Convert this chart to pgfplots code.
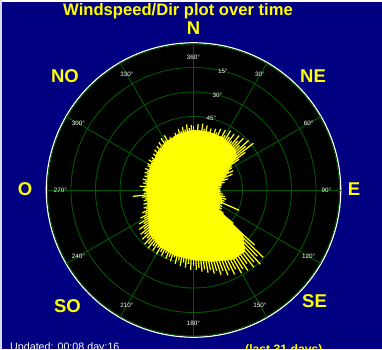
\documentclass[border=0pt]{standalone}
\usepackage{pgfplots}
\pgfplotsset{compat=1.18}
\usepackage{pgfplotstable}
\usepackage{fontspec}
\setmainfont{Liberation Sans}
\definecolor{navybg}{RGB}{0,0,128}
\definecolor{gridg}{RGB}{0,88,0}
\definecolor{yel}{RGB}{255,255,0}

% wind spikes: bearing (deg, clockwise from N), length (px)
\pgfplotstableread{
b r
0 64
2 58
4 66
6 60
8 67
10 62
12 66
14 59
16 64
18 60
20 65
22 62
24 67
26 60
28 68
30 63
32 70
34 64
36 69
38 62
40 71
42 66
44 72
46 64
48 74
50 68
52 76
54 64
56 55
58 45
60 44
62 40
64 44
66 36
68 42
70 33
72 36
74 30
76 32
78 28
80 29
82 26
84 28
86 25
88 27
90 26
92 25
94 28
96 26
98 30
100 27
102 32
104 29
106 34
108 30
110 33
112 31
114 50
116 32
118 30
120 33
122 31
124 34
126 32
128 38
130 52
132 82
134 97
136 92
138 100
140 94
142 98
144 91
146 97
148 93
150 96
152 90
154 94
156 88
158 92
160 86
162 89
164 84
166 86
168 82
170 84
172 80
174 82
176 78
178 80
180 76
182 80
184 74
186 78
188 73
190 77
192 72
194 76
196 70
198 75
200 71
202 74
204 69
206 73
208 70
210 74
212 68
214 73
216 69
218 74
220 70
222 73
224 67
226 71
228 66
230 69
232 63
234 67
236 60
238 64
240 57
242 60
244 54
246 56
248 51
250 53
252 49
254 52
256 48
258 51
260 49
262 52
264 61
266 50
268 48
270 51
272 49
274 54
276 48
278 51
280 49
282 52
284 48
286 51
288 49
290 52
292 50
294 53
296 49
298 52
300 53
302 50
304 54
306 51
308 53
310 50
312 54
314 52
316 56
318 53
320 57
322 54
324 59
326 55
328 61
330 57
332 62
334 56
336 58
338 54
340 57
342 60
344 58
346 63
348 60
350 64
352 61
354 66
356 62
358 65
}\spikes

% solid core outline
\pgfplotstableread{
b r
0 60
15 60
30 60
45 58
52 55
58 40
65 32
80 23
90 23
105 26
120 28
128 31
132 66
140 80
150 80
165 74
180 70
195 68
210 66
225 62
240 52
255 47
270 47
285 47
300 49
315 51
330 55
345 58
}\core

\begin{document}
\begin{tikzpicture}
\begin{axis}[name=ax, width=382pt, height=349pt, scale only axis,
  xmin=0, xmax=382, ymin=-349, ymax=0,
  axis line style={draw=none}, ticks=none, clip=false]
% background
\fill[navybg] (axis cs:0,-349) rectangle (axis cs:382,0);
\fill[white] (axis cs:0,-2) rectangle (axis cs:382,0);
\fill[white!85!navybg] (axis cs:0,-349) rectangle (axis cs:1.5,0);
% plot disc
\fill[black] (axis cs:193.5,-190) circle[radius=147];
\draw[white, line width=1.2pt] (axis cs:193.5,-190) circle[radius=147.2];
\draw[gridg, line width=0.9pt] (axis cs:193.5,-190) circle[radius=146];
\draw[gridg, line width=0.9pt] (axis cs:193.5,-190) circle[radius=24.5];
\draw[gridg, line width=0.9pt] (axis cs:193.5,-190) circle[radius=49];
\draw[gridg, line width=0.9pt] (axis cs:193.5,-190) circle[radius=73.5];
\draw[gridg, line width=0.9pt] (axis cs:193.5,-190) circle[radius=98];
\draw[gridg, line width=0.9pt] (axis cs:193.5,-190) circle[radius=122.5];
\draw[gridg, line width=0.9pt] (axis cs:193.5,-43) -- (axis cs:193.5,-337);
\draw[gridg, line width=0.9pt] (axis cs:46.5,-190) -- (axis cs:340.5,-190);
\draw[gridg, line width=0.9pt] (axis cs:267,-62.7) -- (axis cs:120,-317.3);
\draw[gridg, line width=0.9pt] (axis cs:320.8,-116.5) -- (axis cs:66.2,-263.5);
\draw[gridg, line width=0.9pt] (axis cs:320.8,-263.5) -- (axis cs:66.2,-116.5);
\draw[gridg, line width=0.9pt] (axis cs:267,-317.3) -- (axis cs:120,-62.7);
% angle labels
\tikzset{lab/.style={text=white, inner sep=0pt, font=\fontsize{6.3}{7}\selectfont}}
\node[lab] at (axis cs:193.5,-57) {360°};
\node[lab] at (axis cs:260,-74.8) {30°};
\node[lab] at (axis cs:308.7,-123.5) {60°};
\node[lab] at (axis cs:326.5,-190) {90°};
\node[lab] at (axis cs:308.7,-256.5) {120°};
\node[lab] at (axis cs:260,-305.2) {150°};
\node[lab] at (axis cs:193.5,-323) {180°};
\node[lab] at (axis cs:127,-305.2) {210°};
\node[lab] at (axis cs:78.3,-256.5) {240°};
\node[lab] at (axis cs:60.5,-190) {270°};
\node[lab] at (axis cs:78.3,-123.5) {300°};
\node[lab] at (axis cs:127,-74.8) {330°};
% ring labels
\node[lab] at (axis cs:223,-71) {15°};
\node[lab] at (axis cs:217.5,-95) {30°};
\node[lab] at (axis cs:211.5,-118) {45°};
\node[lab] at (axis cs:205.4,-142.5) {60°};
\node[lab] at (axis cs:199.4,-166) {75°};
% data
\addplot[draw=yel, fill=yel, line width=0.5pt]
  table[x expr={193.5+\thisrow{r}*sin(\thisrow{b})}, y expr={-190+\thisrow{r}*cos(\thisrow{b})}] {\core} -- cycle;
\addplot[yel, line width=1.25pt,
  quiver={u={\thisrow{r}*sin(\thisrow{b})}, v={\thisrow{r}*cos(\thisrow{b})}}]
  table[x expr=193.5, y expr=-190] {\spikes};
% compass & titles
\tikzset{cmp/.style={text=yel, inner sep=0pt, font=\fontsize{18.5}{19}\selectfont\bfseries}}
\node[text=yel, inner sep=0pt, font=\fontsize{16.6}{17}\selectfont\bfseries, anchor=base] at (axis cs:178,-15) {Windspeed/Dir plot over time};
\node[cmp, anchor=base] at (axis cs:193.5,-34) {N};
\node[cmp, anchor=base] at (axis cs:65,-82) {NO};
\node[cmp, anchor=base] at (axis cs:313,-82) {NE};
\node[cmp, anchor=base] at (axis cs:25,-195.5) {O};
\node[cmp, anchor=base] at (axis cs:354,-195.5) {E};
\node[cmp, anchor=base] at (axis cs:67.5,-312) {SO};
\node[cmp, anchor=base] at (axis cs:314.5,-307) {SE};
\node[text=white, inner sep=0pt, font=\fontsize{10.7}{11}\selectfont, anchor=base west] at (axis cs:10,-350) {Updated: 00:08 day:16};
\node[text=yel, inner sep=0pt, font=\fontsize{12.2}{13}\selectfont\bfseries, anchor=base west] at (axis cs:245,-353.5) {(last 31 days)};
\end{axis}
\pgfresetboundingbox
\path[use as bounding box] (ax.south west) rectangle (ax.north east);
\end{tikzpicture}
\end{document}
